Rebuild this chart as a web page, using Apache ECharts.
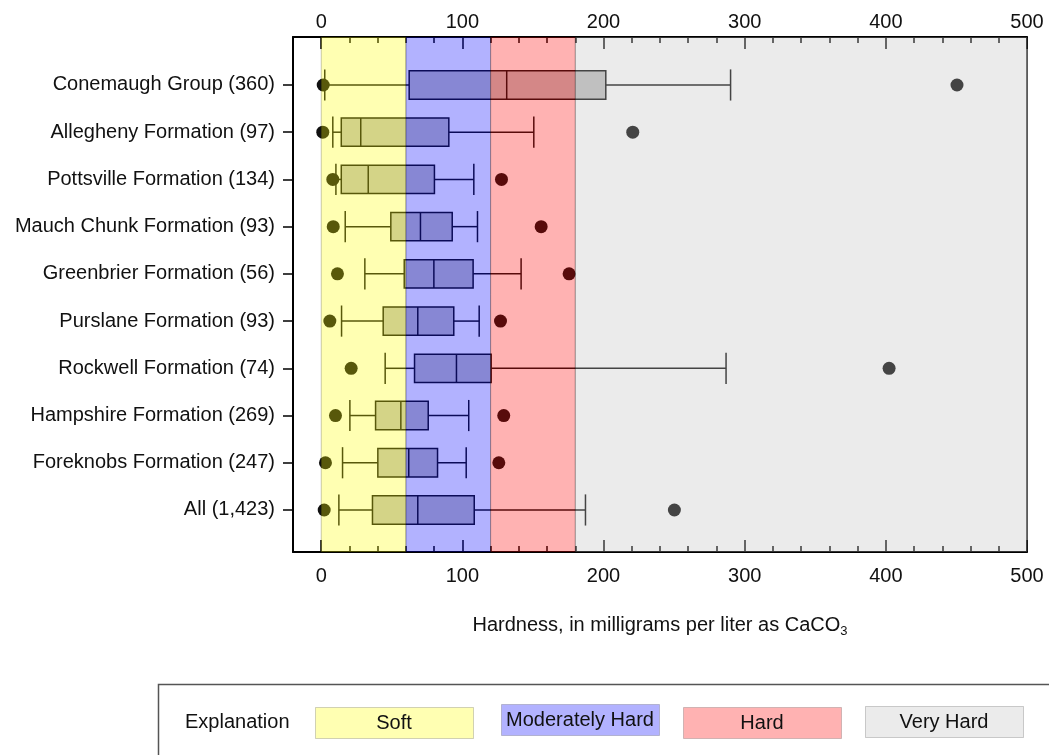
<!DOCTYPE html>
<html>
<head>
<meta charset="utf-8">
<title>Hardness by geologic unit</title>
<script src="https://cdn.jsdelivr.net/npm/echarts@6/dist/echarts.min.js"></script>
<style>
  html, body { margin: 0; padding: 0; background: #fff; }
  #chart { width: 1049px; height: 755px; }
</style>
</head>
<body>
<div id="chart"></div>
<script>
// Geologic units, top to bottom, with sample counts
const formations = [
  'Conemaugh Group (360)',
  'Allegheny Formation (97)',
  'Pottsville Formation (134)',
  'Mauch Chunk Formation (93)',
  'Greenbrier Formation (56)',
  'Purslane Formation (93)',
  'Rockwell Formation (74)',
  'Hampshire Formation (269)',
  'Foreknobs Formation (247)',
  'All (1,423)'
];

// Hardness statistics, mg/L as CaCO3
const whiskerLow  = [2.5, 8.2, 10.4, 17, 30.9, 14.4, 45.3, 20.3, 15.1, 12.5];
const quartile1   = [62.3, 14.2, 14.2, 49.3, 58.8, 43.9, 66.1, 38.5, 40.1, 36.3];
const medians     = [131.4, 28, 33.3, 70.3, 79.8, 68.4, 95.8, 56.4, 62, 68.4];
const quartile3   = [201.6, 90.4, 80.2, 92.8, 107.6, 93.9, 120.4, 75.8, 82.4, 108.4];
const whiskerHigh = [290, 150.6, 108.1, 110.7, 141.6, 111.9, 286.8, 104.5, 102.7, 187.2];
const minValues   = [1.4, 1.1, 8.2, 8.5, 11.5, 6.1, 21.2, 10.1, 3, 2.1];
const maxValues   = [450.4, 220.7, 127.7, 155.8, 175.6, 127, 402.3, 129.3, 125.8, 250.2];

// Hardness classes
const hardnessClasses = ['Soft', 'Moderately Hard', 'Hard', 'Very Hard'];
const classLimits = [[0, 60], [60, 120], [120, 180], [180, 500]];
const classColors = [
  'rgba(255,255,0,0.3)',
  'rgba(0,0,255,0.3)',
  'rgba(255,0,0,0.3)',
  'rgba(190,190,190,0.3)'
];

// Axis ticks
const majorTicks = [0, 100, 200, 300, 400, 500];
const minorTicks = [20, 40, 60, 80, 120, 140, 160, 180, 220, 240, 260, 280,
                    320, 340, 360, 380, 420, 440, 460, 480];
const rowIndex = formations.map((_, i) => i);

const FONT = '"Liberation Sans", Arial, Helvetica, sans-serif';
const INK = '#111';

const chart = echarts.init(document.getElementById('chart'), null, { renderer: 'canvas' });

function xAxisPair(position, labelMargin, withName) {
  const major = {
    type: 'value', position: position, min: -20, max: 500,
    axisLine: { show: true, onZero: false, lineStyle: { color: '#000', width: 2 } },
    axisTick: { show: true, inside: true, length: 12, customValues: majorTicks,
                lineStyle: { color: '#000', width: 1.5 } },
    axisLabel: { show: true, customValues: majorTicks, margin: labelMargin,
                 fontSize: 20, fontFamily: FONT, color: INK },
    splitLine: { show: false }
  };
  if (withName) {
    major.name = '{t|Hardness, in milligrams per liter as CaCO}{s|3}';
    major.nameLocation = 'middle';
    major.nameGap = 60;
    major.nameTextStyle = {
      rich: {
        t: { fontSize: 20, fontFamily: FONT, color: INK, lineHeight: 26 },
        s: { fontSize: 13, fontFamily: FONT, color: INK, lineHeight: 13, verticalAlign: 'bottom' }
      }
    };
  }
  const minor = {
    type: 'value', position: position, min: -20, max: 500,
    axisLine: { show: false, onZero: false },
    axisTick: { show: true, inside: true, length: 6, customValues: minorTicks,
                lineStyle: { color: '#000', width: 1.5 } },
    axisLabel: { show: false },
    splitLine: { show: false }
  };
  return [major, minor];
}

const Y_MIN = -1.016, Y_MAX = 9.89;

const option = {
  backgroundColor: '#fff',
  animation: false,
  grid: { left: 293, right: 22, top: 37, bottom: 203, containLabel: false, outerBoundsMode: 'none' },
  xAxis: [].concat(xAxisPair('bottom', 14, true), xAxisPair('top', 5, false)),
  yAxis: [
    {
      type: 'value', position: 'left', inverse: true, min: Y_MIN, max: Y_MAX,
      axisLine: { show: true, onZero: false, lineStyle: { color: '#000', width: 2 } },
      axisTick: { show: true, inside: false, length: 10, customValues: rowIndex,
                  lineStyle: { color: '#000', width: 1.5 } },
      axisLabel: { show: true, customValues: rowIndex, margin: 18,
                   formatter: v => formations[Math.round(v)] || '',
                   fontSize: 20, fontFamily: FONT, color: INK },
      splitLine: { show: false }
    },
    {
      type: 'value', position: 'right', inverse: true, min: Y_MIN, max: Y_MAX,
      axisLine: { show: true, onZero: false, lineStyle: { color: '#666', width: 2 } },
      axisTick: { show: false }, axisLabel: { show: false }, splitLine: { show: false }
    }
  ],
  series: [
    {
      // box-and-whisker for each unit
      type: 'custom', name: 'Hardness', z: 2, silent: true, clip: false,
      xAxisIndex: 0, yAxisIndex: 0,
      data: rowIndex.map(i => [i, whiskerLow[i], quartile1[i], medians[i], quartile3[i], whiskerHigh[i]]),
      encode: { x: [1, 2, 3, 4, 5], y: 0 },
      renderItem: function (params, api) {
        const row = api.value(0);
        const pt = k => api.coord([api.value(k), row]);
        const lo = pt(1), q1 = pt(2), md = pt(3), q3 = pt(4), hi = pt(5);
        const step = api.size([0, 1])[1];
        const hb = step * 0.30, hc = step * 0.33;
        const y = lo[1];
        const line = { stroke: INK, lineWidth: 1.5 };
        return {
          type: 'group',
          children: [
            { type: 'line', shape: { x1: lo[0], y1: y, x2: q1[0], y2: y }, style: line },
            { type: 'line', shape: { x1: q3[0], y1: y, x2: hi[0], y2: y }, style: line },
            { type: 'line', shape: { x1: lo[0], y1: y - hc, x2: lo[0], y2: y + hc }, style: line },
            { type: 'line', shape: { x1: hi[0], y1: y - hc, x2: hi[0], y2: y + hc }, style: line },
            { type: 'rect', shape: { x: q1[0], y: y - hb, width: q3[0] - q1[0], height: 2 * hb },
              style: { fill: '#c2c2c2', stroke: INK, lineWidth: 1.5 } },
            { type: 'line', shape: { x1: md[0], y1: y - hb, x2: md[0], y2: y + hb }, style: line }
          ]
        };
      }
    },
    {
      type: 'scatter', name: 'Minimum', z: 3, silent: true,
      xAxisIndex: 0, yAxisIndex: 0,
      symbol: 'circle', symbolSize: 13,
      itemStyle: { color: INK, opacity: 1 },
      data: rowIndex.map(i => [minValues[i], i])
    },
    {
      type: 'scatter', name: 'Maximum', z: 3, silent: true,
      xAxisIndex: 0, yAxisIndex: 0,
      symbol: 'circle', symbolSize: 13,
      itemStyle: { color: INK, opacity: 1 },
      data: rowIndex.map(i => [maxValues[i], i])
    },
    {
      // translucent hardness-class bands laid over the boxes
      type: 'custom', name: 'Classes', z: 10, silent: true, clip: false,
      xAxisIndex: 0, yAxisIndex: 0,
      data: classLimits.map(r => [r[0], r[1]]),
      encode: { x: [0, 1] },
      renderItem: function (params, api) {
        const cs = params.coordSys;
        const a = api.coord([api.value(0), 0]);
        const b = api.coord([api.value(1), 0]);
        return {
          type: 'rect',
          shape: { x: a[0], y: cs.y, width: b[0] - a[0], height: cs.height },
          style: { fill: classColors[params.dataIndex], stroke: 'rgba(0,0,0,0.22)', lineWidth: 1 }
        };
      }
    }
  ],
  graphic: [
    {
      type: 'rect', silent: true,
      shape: { x: 158.5, y: 684.5, width: 1000, height: 200 },
      style: { fill: '#fff', stroke: '#555', lineWidth: 1.5 }
    },
    {
      type: 'text', silent: true, x: 185, y: 722,
      style: { text: 'Explanation', fontSize: 20, fontFamily: FONT, fill: INK,
               align: 'left', verticalAlign: 'middle' }
    }
  ].concat(hardnessClasses.flatMap((name, i) => {
    const left = [315, 501, 683, 865][i];
    const top = [707, 704, 707, 706][i];
    return [
      { type: 'rect', silent: true,
        shape: { x: left + 0.5, y: top + 0.5, width: 158, height: 31 },
        style: { fill: classColors[i], stroke: 'rgba(0,0,0,0.18)', lineWidth: 1 } },
      { type: 'text', silent: true, x: left + 79, y: top + 16,
        style: { text: name, fontSize: 20, fontFamily: FONT, fill: INK,
                 align: 'center', verticalAlign: 'middle' } }
    ];
  }))
};

chart.setOption(option);
</script>
</body>
</html>
